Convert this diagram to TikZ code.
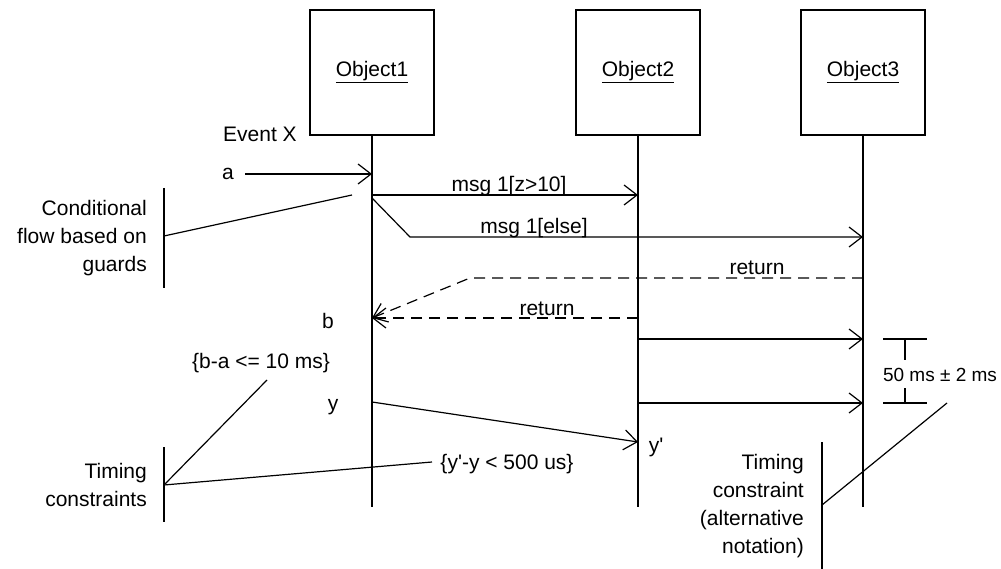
\documentclass[tikz,border=0pt]{standalone}
\usepackage{fontspec}
\newfontfamily\lsans{Liberation Sans}
\usetikzlibrary{arrows.meta}
\begin{document}
\begin{tikzpicture}[x=1pt,y=-1pt,
  txt/.style={font=\lsans\fontsize{21}{28}\selectfont, inner sep=0pt},
  obj/.style={draw, line width=1.3pt, minimum width=124pt, minimum height=125pt, inner sep=0pt, font=\lsans\fontsize{21}{28}\selectfont},
  ln/.style={line width=1.2pt},
  msg/.style={ln, -{Straight Barb[length=13pt,width=20pt,line width=1.2pt]}},
  ret/.style={msg, dash pattern=on 11pt off 7pt}]
\useasboundingbox (0,0) rectangle (1001,569);
\fill[white] (0,0) rectangle (1001,569);

% objects and lifelines
\node[obj] (o1) at (372,72.5) {\underline{Object1}};
\node[obj] (o2) at (638,72.5) {\underline{Object2}};
\node[obj] (o3) at (863,72.5) {\underline{Object3}};
\coordinate (e1) at (372,507);
\coordinate (e2) at (638,507);
\coordinate (e3) at (863,507);
\draw[ln] (o1.south) -- (e1);
\draw[ln] (o2.south) -- (e2);
\draw[ln] (o3.south) -- (e3);

% labels
\node[txt] (evx) at (260,134) {Event X};
\node[txt] (la) at (228,174) {a};
\node[txt] (lb) at (328,321) {b};
\node[txt] (ly) at (333,407) {y};
\node[txt] (lyp) at (656,447) {y'};

% messages
\coordinate (a0) at (245,174);
\coordinate (a1) at (372,174);
\draw[msg] (a0) -- (a1);

\coordinate (m1s) at (372,195);
\coordinate (m1e) at (638,195);
\draw[msg] (m1s) -- (m1e);
\node[txt] (m1l) at (509,186) {msg 1[z>10]};

\coordinate (m2s) at (372,198);
\coordinate (m2k) at (410,237);
\coordinate (m2e) at (863,237);
\draw[msg] (m2s) -- (m2k) -- (m2e);
\node[txt] (m2l) at (534,228) {msg 1[else]};

\coordinate (r1s) at (863,278);
\coordinate (r1k) at (470,278);
\coordinate (r1e) at (372,318);
\draw[ret] (r1s) -- (r1k) -- (r1e);
\node[txt] (r1l) at (757,268) {return};

\coordinate (r2s) at (638,318);
\draw[ret] (r2s) -- (r1e);
\node[txt] (r2l) at (547,309) {return};

\coordinate (m3s) at (638,339);
\coordinate (m3e) at (863,339);
\draw[msg] (m3s) -- (m3e);
\coordinate (m4s) at (638,403);
\coordinate (m4e) at (863,403);
\draw[msg] (m4s) -- (m4e);

\coordinate (ys) at (372,402);
\coordinate (ye) at (638,442);
\draw[msg] (ys) -- (ye);

% conditional flow note
\node[txt, align=right, anchor=east] (cf) at (147,238) {Conditional\\flow based on\\guards};
\coordinate (cft) at (164,188);
\coordinate (cfb) at (164,288);
\coordinate (cfm) at (164,236);
\coordinate (cfp) at (352,195);
\draw[ln] (cft) -- (cfb);
\draw[ln] (cfm) -- (cfp);

% timing constraints note
\node[txt, align=right, anchor=east] (tc) at (147,485) {Timing\\constraints};
\node[txt] (tba) at (261,363) {\{b-a <= 10 ms\}};
\node[txt] (tyy) at (507,464) {\{y'-y < 500 us\}};
\coordinate (tct) at (164,447);
\coordinate (tcb) at (164,522);
\coordinate (tcm) at (164,485);
\coordinate (tcp1) at (267,380);
\coordinate (tcp2) at (432,462);
\draw[ln] (tct) -- (tcb);
\draw[ln] (tcm) -- (tcp1);
\draw[ln] (tcm) -- (tcp2);

% dimension
\coordinate (d1a) at (883,339);
\coordinate (d1b) at (927,339);
\coordinate (d2a) at (883,403);
\coordinate (d2b) at (927,403);
\coordinate (dv1) at (905,339);
\coordinate (dv2) at (905,403);
\node[txt, font=\lsans\fontsize{19}{24}\selectfont] (dl) at (940,375) {50 ms ± 2 ms};
\draw[ln] (d1a) -- (d1b);
\draw[ln] (d2a) -- (d2b);
\draw[ln] (dv1) -- (905,360);
\draw[ln] (905,388) -- (dv2);

% alternative notation note
\node[txt, align=right, anchor=east] (alt) at (804,506) {Timing\\constraint\\(alternative\\notation)};
\coordinate (alt1) at (822,442);
\coordinate (alt2) at (822,569);
\coordinate (altm) at (822,505);
\coordinate (altp) at (947,403);
\draw[ln] (alt1) -- (alt2);
\draw[ln] (altm) -- (altp);
\end{tikzpicture}
\end{document}
